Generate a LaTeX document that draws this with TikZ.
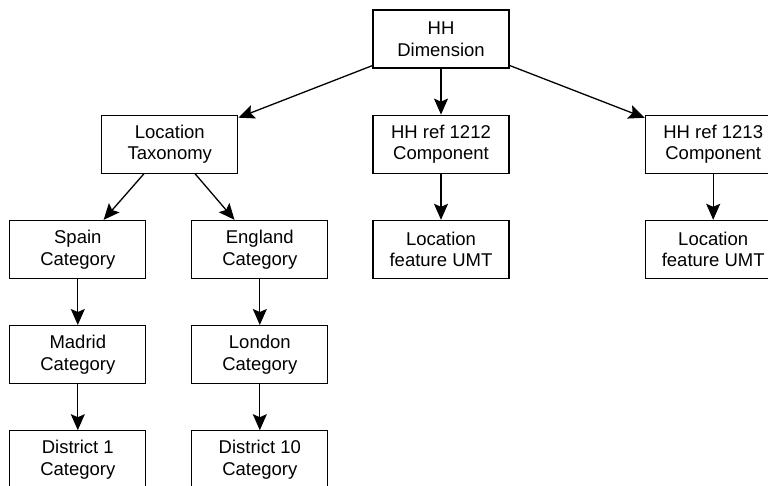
\documentclass[tikz,border=0pt]{standalone}
\usepackage{fontspec}
\setmainfont{Liberation Sans}
\usepackage{tikz}
\usetikzlibrary{positioning,arrows.meta}

\begin{document}
\begin{tikzpicture}[
        box/.style={rectangle, draw, line width=1.2pt, minimum width=136pt, minimum height=58pt, inner sep=2pt, align=center, font=\fontsize{18.5}{21.7}\selectfont},
        edge/.style={draw, line width=1.3pt, -{Stealth[length=16pt, width=14pt, inset=3pt]}}
    ]
        \useasboundingbox (0,0) rectangle (768pt,-485pt);

        % Dimension and components
        \node[box] (hh) at (441pt,-39pt) {HH\\Dimension};
        \node[box, below left=46pt and 134pt of hh] (loc) {Location\\Taxonomy};
        \node[box, below=46pt of hh] (ref1212) {HH ref 1212\\Component};
        \node[box, below right=46pt and 135pt of hh] (ref1213) {HH ref 1213\\Component};

        % Features
        \node[box, below=46pt of ref1212] (feat1212) {Location\\feature UMT};
        \node[box, below=46pt of ref1213] (feat1213) {Location\\feature UMT};

        % Categories
        \node[box, below=46pt of loc, xshift=-92pt] (spain) {Spain\\Category};
        \node[box, below=46pt of loc, xshift=90pt] (england) {England\\Category};
        \node[box, below=46pt of spain] (madrid) {Madrid\\Category};
        \node[box, below=46pt of england] (london) {London\\Category};
        \node[box, below=46pt of madrid] (district1) {District 1\\Category};
        \node[box, below=46pt of london] (district10) {District 10\\Category};

        % Edges
        \draw[edge] (hh) -- (loc);
        \draw[edge] (hh) -- (ref1212);
        \draw[edge] (hh) -- (ref1213);
        \draw[edge] (ref1212) -- (feat1212);
        \draw[edge] (ref1213) -- (feat1213);
        \draw[edge] (loc) -- (spain);
        \draw[edge] (loc) -- (england);
        \draw[edge] (spain) -- (madrid);
        \draw[edge] (england) -- (london);
        \draw[edge] (madrid) -- (district1);
        \draw[edge] (london) -- (district10);
    \end{tikzpicture}
\end{document}
